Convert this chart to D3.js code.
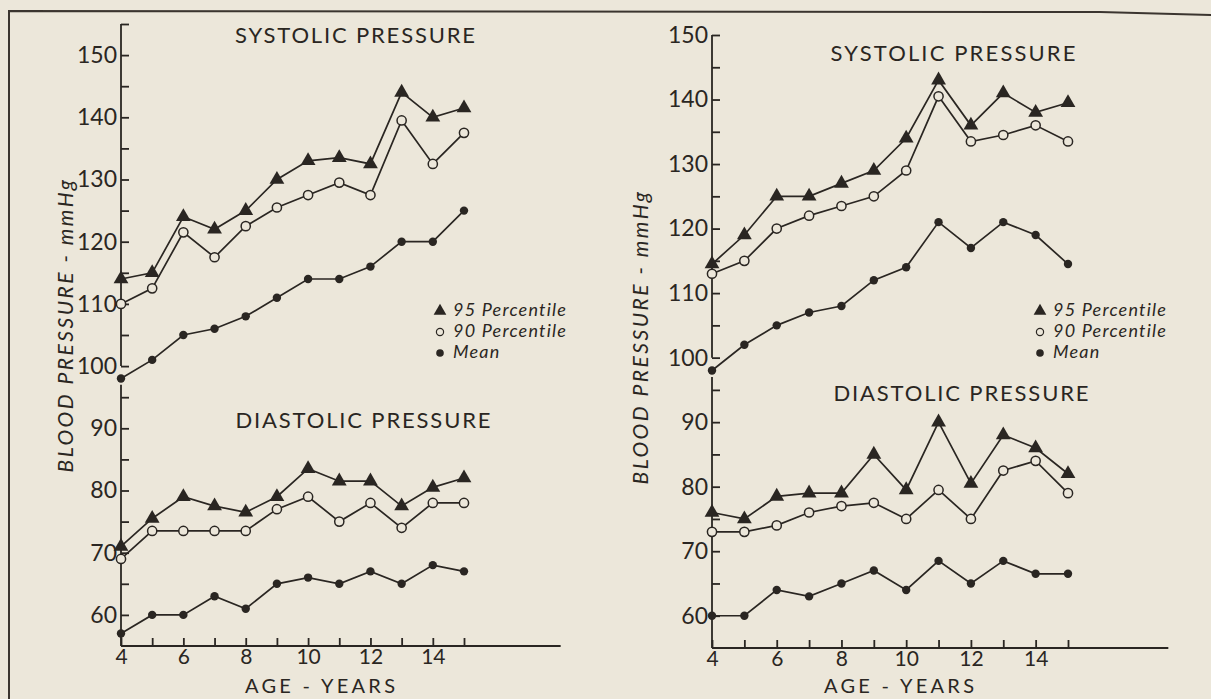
<!DOCTYPE html>
<html>
<head>
<meta charset="utf-8">
<script src="https://cdn.jsdelivr.net/npm/d3@7"></script>
<style>
  body { margin: 0; background: #ece7da; }
  svg { display: block; }
  text { font-family: Lato, "DejaVu Sans", sans-serif; fill: #2a2622; }
</style>
</head>
<body>
<div id="app"></div>
<script>
// ages on the x axis
const ages = [4, 5, 6, 7, 8, 9, 10, 11, 12, 13, 14, 15]
const ageLabels = [4, 6, 8, 10, 12, 14]

// left panel
const leftSys95 = [114, 115, 124, 122, 125, 130, 133, 133.5, 132.5, 144, 140, 141.5]
const leftSys90 = [110, 112.5, 121.5, 117.5, 122.5, 125.5, 127.5, 129.5, 127.5, 139.5, 132.5, 137.5]
const leftSysMean = [98, 101, 105, 106, 108, 111, 114, 114, 116, 120, 120, 125]
const leftDia95 = [71, 75.5, 79, 77.5, 76.5, 79, 83.5, 81.5, 81.5, 77.5, 80.5, 82]
const leftDia90 = [69, 73.5, 73.5, 73.5, 73.5, 77, 79, 75, 78, 74, 78, 78]
const leftDiaMean = [57, 60, 60, 63, 61, 65, 66, 65, 67, 65, 68, 67]

// right panel
const rightSys95 = [114.5, 119, 125, 125, 127, 129, 134, 143, 136, 141, 138, 139.5]
const rightSys90 = [113, 115, 120, 122, 123.5, 125, 129, 140.5, 133.5, 134.5, 136, 133.5]
const rightSysMean = [98, 102, 105, 107, 108, 112, 114, 121, 117, 121, 119, 114.5]
const rightDia95 = [76, 75, 78.5, 79, 79, 85, 79.5, 90, 80.5, 88, 86, 82]
const rightDia90 = [73, 73, 74, 76, 77, 77.5, 75, 79.5, 75, 82.5, 84, 79]
const rightDiaMean = [60, 60, 64, 63, 65, 67, 64, 68.5, 65, 68.5, 66.5, 66.5]

const legendLabels = ['95 Percentile', '90 Percentile', 'Mean']
const ink = '#2a2622'
const paper = '#ece7da'

const width = 1211
const height = 699

const svg = d3.select('#app')
  .append('svg')
  .attr('width', width)
  .attr('height', height)

svg.append('rect')
  .attr('width', width)
  .attr('height', height)
  .attr('fill', paper)

// page frame from the scan
svg.append('path')
  .attr('d', 'M9,699 L9,11 L1100,12 L1211,15')
  .attr('fill', 'none')
  .attr('stroke', '#3b352f')
  .attr('stroke-width', 2)

function panel(cfg) {
  const g = svg.append('g')
  const x = d3.scaleLinear().domain([4, 15]).range(cfg.xRange)
  const y = d3.scaleLinear().domain([55, cfg.top]).range(cfg.yRange)

  const yTicks = d3.range(60, cfg.top + 1, 5)
  g.append('g')
    .attr('transform', `translate(${cfg.xRange[0]},0)`)
    .call(d3.axisLeft(y)
      .tickValues(yTicks)
      .tickSizeInner(-8)
      .tickSizeOuter(0)
      .tickPadding(4)
      .tickFormat(d => d % 10 === 0 && d <= 150 ? d : ''))
    .call(a => a.select('.domain').remove())
    .call(a => a.selectAll('line').attr('stroke', ink).attr('stroke-width', 1.8))
    .call(a => a.selectAll('text')
      .attr('font-size', 23)
      .attr('font-family', 'Lato, sans-serif')
      .attr('fill', ink))

  // broken y axis
  g.append('line')
    .attr('x1', x(4)).attr('x2', x(4))
    .attr('y1', y(cfg.top)).attr('y2', y(100))
    .attr('stroke', ink).attr('stroke-width', 1.8)
  g.append('line')
    .attr('x1', x(4)).attr('x2', x(4))
    .attr('y1', y(97)).attr('y2', y(55))
    .attr('stroke', ink).attr('stroke-width', 1.8)

  g.append('g')
    .attr('transform', `translate(0,${y(55)})`)
    .call(d3.axisBottom(x)
      .tickValues(ages)
      .tickSizeInner(-8)
      .tickSizeOuter(0)
      .tickPadding(3)
      .tickFormat(d => ageLabels.includes(d) ? d : ''))
    .call(a => a.select('.domain').remove())
    .call(a => a.selectAll('line').attr('stroke', ink).attr('stroke-width', 1.8))
    .call(a => a.selectAll('text')
      .attr('font-size', 21)
      .attr('font-family', 'Lato, sans-serif')
      .attr('fill', ink))

  g.append('line')
    .attr('x1', x(4)).attr('x2', x(18.1))
    .attr('y1', y(55)).attr('y2', y(55))
    .attr('stroke', ink).attr('stroke-width', 2)

  const line = d3.line().x((d, i) => x(ages[i])).y(d => y(d))

  const series = [cfg.sys95, cfg.sys90, cfg.sysMean, cfg.dia95, cfg.dia90, cfg.diaMean]
  series.forEach(s => {
    g.append('path')
      .attr('d', line(s))
      .attr('fill', 'none')
      .attr('stroke', ink)
      .attr('stroke-width', 1.7)
  })

  const tri = d3.symbol(d3.symbolTriangle, 95)
  ;[cfg.sys95, cfg.dia95].forEach(s => {
    g.selectAll(null).data(s).enter()
      .append('path')
      .attr('d', tri)
      .attr('transform', (d, i) => `translate(${x(ages[i])},${y(d)})`)
      .attr('fill', ink)
  })
  ;[cfg.sys90, cfg.dia90].forEach(s => {
    g.selectAll(null).data(s).enter()
      .append('circle')
      .attr('cx', (d, i) => x(ages[i]))
      .attr('cy', d => y(d))
      .attr('r', 4.6)
      .attr('fill', paper)
      .attr('stroke', ink)
      .attr('stroke-width', 1.5)
  })
  ;[cfg.sysMean, cfg.diaMean].forEach(s => {
    g.selectAll(null).data(s).enter()
      .append('circle')
      .attr('cx', (d, i) => x(ages[i]))
      .attr('cy', d => y(d))
      .attr('r', 4.2)
      .attr('fill', ink)
  })

  // titles
  g.append('text')
    .attr('x', cfg.sysTitle[0]).attr('y', cfg.sysTitle[1])
    .attr('text-anchor', 'middle').attr('dominant-baseline', 'middle')
    .attr('font-size', 22)
    .attr('textLength', cfg.sysTitle[2]).attr('lengthAdjust', 'spacing')
    .text('SYSTOLIC PRESSURE')
  g.append('text')
    .attr('x', cfg.diaTitle[0]).attr('y', cfg.diaTitle[1])
    .attr('text-anchor', 'middle').attr('dominant-baseline', 'middle')
    .attr('font-size', 22)
    .attr('textLength', cfg.diaTitle[2]).attr('lengthAdjust', 'spacing')
    .text('DIASTOLIC PRESSURE')

  g.append('text')
    .attr('x', cfg.ageLabel[0]).attr('y', cfg.ageLabel[1])
    .attr('text-anchor', 'middle').attr('dominant-baseline', 'middle')
    .attr('font-size', 20)
    .attr('textLength', 150).attr('lengthAdjust', 'spacing')
    .text('AGE - YEARS')

  g.append('text')
    .attr('transform', `translate(${cfg.yLabel[0]},${cfg.yLabel[1]}) rotate(-90)`)
    .attr('text-anchor', 'middle').attr('dominant-baseline', 'middle')
    .attr('font-size', 21)
    .attr('font-style', 'italic')
    .attr('letter-spacing', 2.5)
    .text('BLOOD  PRESSURE - mmHg')

  // legend
  const lg = g.append('g').attr('transform', `translate(${cfg.legend[0]},${cfg.legend[1]})`)
  lg.append('path').attr('d', d3.symbol(d3.symbolTriangle, 70)).attr('fill', ink)
  lg.append('circle').attr('cy', 21).attr('r', 3.6)
    .attr('fill', paper).attr('stroke', ink).attr('stroke-width', 1.2)
  lg.append('circle').attr('cy', 42).attr('r', 3.8).attr('fill', ink)
  lg.selectAll('text').data(legendLabels).enter()
    .append('text')
    .attr('x', 13)
    .attr('y', (d, i) => i * 21)
    .attr('dominant-baseline', 'middle')
    .attr('font-size', 18)
    .attr('font-style', 'italic')
    .attr('letter-spacing', 1.2)
    .text(d => d)
}

panel({
  xRange: [121, 464], yRange: [646, 24], top: 155,
  sys95: leftSys95, sys90: leftSys90, sysMean: leftSysMean,
  dia95: leftDia95, dia90: leftDia90, diaMean: leftDiaMean,
  sysTitle: [355, 37, 240], diaTitle: [363, 422, 255],
  ageLabel: [320, 688], yLabel: [68, 325], legend: [440, 311]
})

panel({
  xRange: [712, 1068], yRange: [648, 35], top: 150,
  sys95: rightSys95, sys90: rightSys90, sysMean: rightSysMean,
  dia95: rightDia95, dia90: rightDia90, diaMean: rightDiaMean,
  sysTitle: [953, 55, 245], diaTitle: [961, 395, 255],
  ageLabel: [899, 688], yLabel: [643, 337], legend: [1040, 311]
})
</script>
</body>
</html>
